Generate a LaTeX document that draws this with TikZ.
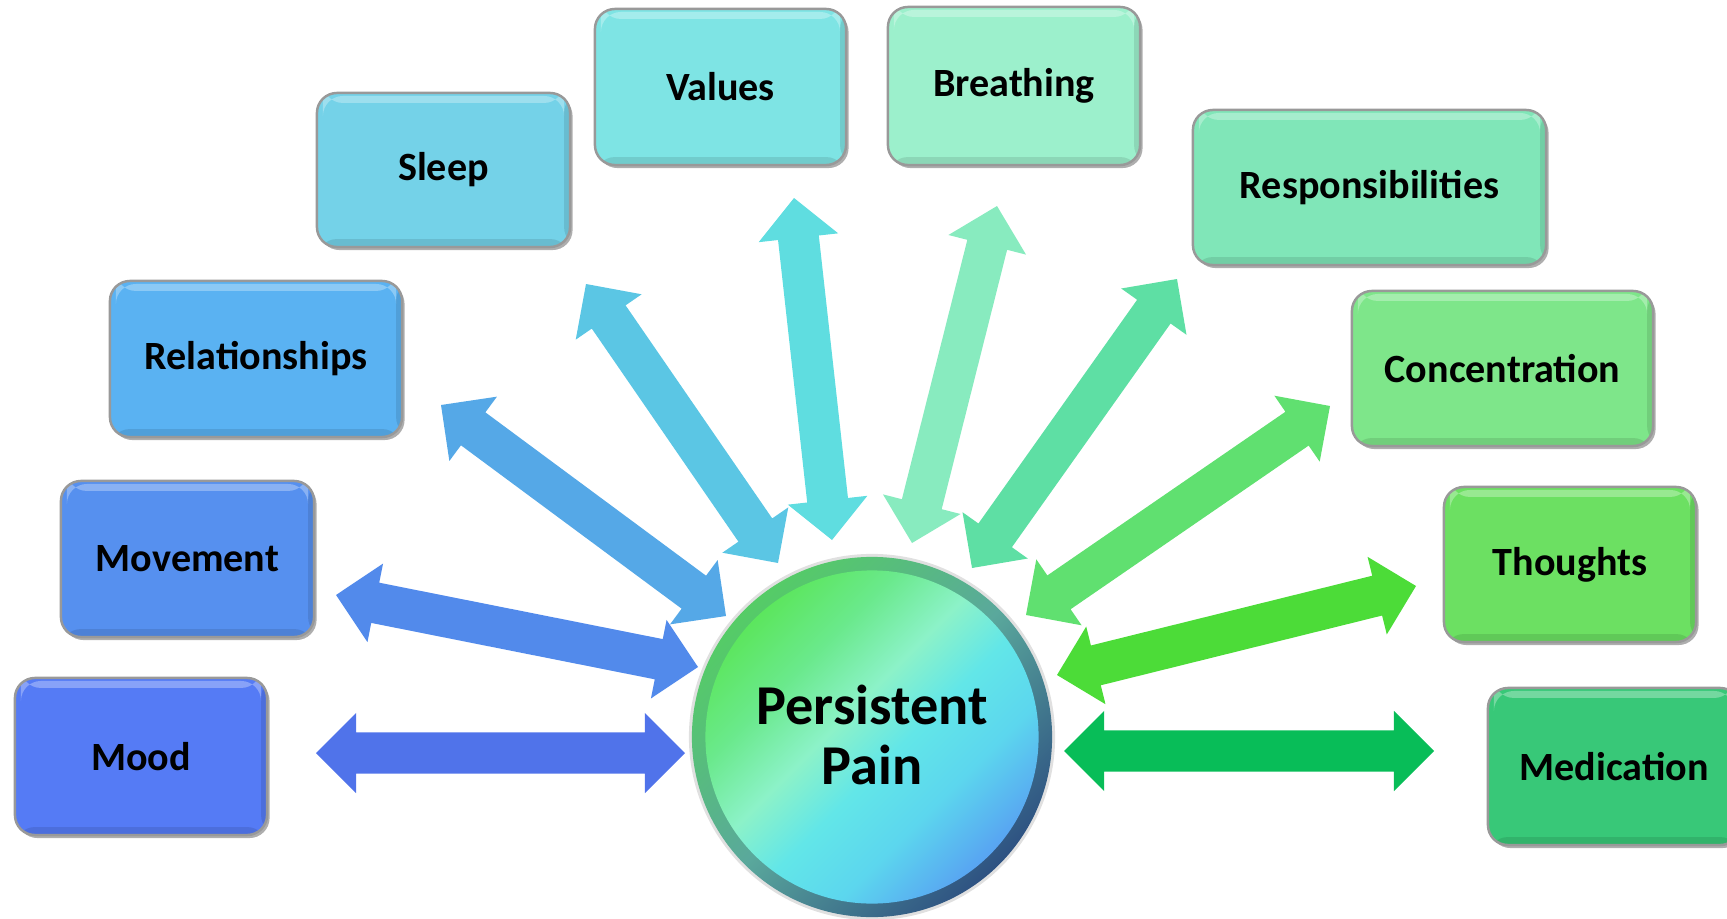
\documentclass[tikz,border=0pt]{standalone}
\usepackage{fontspec}
\setmainfont{Carlito}
\usetikzlibrary{calc,shadows}

% box colours
\definecolor{bmood}{HTML}{557BF5}
\definecolor{bmove}{HTML}{5690EF}
\definecolor{brel}{HTML}{5AB2F2}
\definecolor{bsleep}{HTML}{74D2E8}
\definecolor{bval}{HTML}{7EE4E4}
\definecolor{bbreath}{HTML}{9CF0CC}
\definecolor{bresp}{HTML}{80E6B8}
\definecolor{bconc}{HTML}{7EE68A}
\definecolor{bthou}{HTML}{6CE062}
\definecolor{bmed}{HTML}{38C878}
% arrow colours
\definecolor{amood}{HTML}{5073EA}
\definecolor{amove}{HTML}{528AEB}
\definecolor{arel}{HTML}{55A8E7}
\definecolor{asleep}{HTML}{5BC6E4}
\definecolor{aval}{HTML}{5FDDE0}
\definecolor{abreath}{HTML}{88EBBF}
\definecolor{aresp}{HTML}{5EDFA4}
\definecolor{aconc}{HTML}{60E070}
\definecolor{athou}{HTML}{4CDC38}
\definecolor{amed}{HTML}{08BD58}
% circle colours
\definecolor{pgreen}{HTML}{5CE65E}
\definecolor{pgreen2}{HTML}{6AE98C}
\definecolor{pmint}{HTML}{8CF2C8}
\definecolor{pcyan}{HTML}{62E6E8}
\definecolor{pcyan2}{HTML}{5CD6EE}
\definecolor{pblue}{HTML}{58A4F2}
\definecolor{rgreen}{HTML}{55CC66}
\definecolor{rteal}{HTML}{5AA89C}
\definecolor{rdark}{HTML}{2E5282}

\pgfdeclarehorizontalshading{painshade}{100bp}{color(0bp)=(pgreen); color(25bp)=(pgreen); color(35bp)=(pgreen2); color(45bp)=(pmint); color(54bp)=(pcyan); color(64bp)=(pcyan2); color(75bp)=(pblue); color(100bp)=(pblue)}
\pgfdeclarehorizontalshading{ringshade}{100bp}{color(0bp)=(rgreen); color(25bp)=(rgreen); color(50bp)=(rteal); color(75bp)=(rdark); color(100bp)=(rdark)}

\newcommand{\dbar}[3]{%
  \coordinate (hA) at ($(#1)!0.4cm!(#2)$);
  \coordinate (hB) at ($(#2)!0.4cm!(#1)$);
  \fill[#3] (#1) -- ($(hA)!0.4cm!90:(#2)$) -- ($(hA)!0.205cm!90:(#2)$)
    -- ($(hB)!0.205cm!-90:(#1)$) -- ($(hB)!0.4cm!-90:(#1)$) -- (#2)
    -- ($(hB)!0.4cm!90:(#1)$) -- ($(hB)!0.205cm!90:(#1)$)
    -- ($(hA)!0.205cm!-90:(#2)$) -- ($(hA)!0.4cm!-90:(#2)$) -- cycle;
}

\tikzset{
  box/.style={rounded corners=0.2cm, draw=black!40, line width=0.7pt,
    inner sep=0pt, align=center,
    font=\fontsize{11.4}{13}\selectfont\bfseries,
    drop shadow={shadow xshift=0.025cm, shadow yshift=-0.03cm, opacity=0.45, fill=black!70},
    path picture={
      \fill[white,opacity=0.30] ([xshift=0.06cm,yshift=-0.03cm]path picture bounding box.north west) rectangle ([xshift=-0.06cm,yshift=-0.10cm]path picture bounding box.north east);
      \fill[black,opacity=0.10] ([yshift=0.08cm]path picture bounding box.south west) rectangle (path picture bounding box.south east);
      \fill[black,opacity=0.10] ([xshift=-0.06cm]path picture bounding box.north east) rectangle (path picture bounding box.south east);
    }},
  pain/.style={align=center, font=\fontsize{16}{17.2}\selectfont\bfseries, inner sep=0pt}
}

\begin{document}
\begin{tikzpicture}[x=0.01cm, y=-0.01cm]
\useasboundingbox (0,0) rectangle (1727,918);

% arrow end points
\coordinate (mood-out) at (316,753);    \coordinate (mood-in) at (685,753);
\coordinate (move-out) at (336,595);    \coordinate (move-in) at (698,667);
\coordinate (rel-out) at (441,405);     \coordinate (rel-in) at (726,616);
\coordinate (sleep-out) at (586,284);   \coordinate (sleep-in) at (778,563);
\coordinate (val-out) at (794,198);     \coordinate (val-in) at (832,540);
\coordinate (breath-out) at (997,206);  \coordinate (breath-in) at (912,543);
\coordinate (resp-out) at (1177,279);   \coordinate (resp-in) at (972,568);
\coordinate (conc-out) at (1330,406);   \coordinate (conc-in) at (1026,615);
\coordinate (thou-out) at (1416,586);   \coordinate (thou-in) at (1057,675);
\coordinate (med-out) at (1434,751);    \coordinate (med-in) at (1064,751);

\dbar{mood-out}{mood-in}{amood}
\dbar{move-out}{move-in}{amove}
\dbar{rel-out}{rel-in}{arel}
\dbar{sleep-out}{sleep-in}{asleep}
\dbar{val-out}{val-in}{aval}
\dbar{breath-out}{breath-in}{abreath}
\dbar{resp-out}{resp-in}{aresp}
\dbar{conc-out}{conc-in}{aconc}
\dbar{thou-out}{thou-in}{athou}
\dbar{med-out}{med-in}{amed}

% central circle
\coordinate (pc) at (872,737);
\fill[black!12] (pc) circle (1.83cm);
\shade[shading=ringshade, shading angle=-45] (pc) circle (1.8cm);
\shade[shading=painshade, shading angle=-45] (pc) circle (1.665cm);
\node[pain] (pain) at ([yshift=0.02cm]pc) {Persistent\\Pain};

% boxes
\node[box, fill=bmood, minimum width=2.52cm, minimum height=1.57cm] (mood) at (141,756.5) {Mood};
\node[box, fill=bmove, minimum width=2.53cm, minimum height=1.56cm] (move) at (187.5,559) {Movement};
\node[box, fill=brel, minimum width=2.92cm, minimum height=1.56cm] (rel) at (256,359) {Relationships};
\node[box, fill=bsleep, minimum width=2.53cm, minimum height=1.54cm] (sleep) at (443.5,170) {Sleep};
\node[box, fill=bval, minimum width=2.51cm, minimum height=1.56cm] (val) at (720.5,87) {Values};
\node[box, fill=bbreath, minimum width=2.52cm, minimum height=1.58cm] (breath) at (1014,86) {Breathing};
\node[box, fill=bresp, minimum width=3.53cm, minimum height=1.55cm] (resp) at (1369.5,187.5) {Responsibilities};
\node[box, fill=bconc, minimum width=3.01cm, minimum height=1.55cm] (conc) at (1502.5,368.5) {Concentration};
\node[box, fill=bthou, minimum width=2.52cm, minimum height=1.55cm] (thou) at (1570,564.5) {Thoughts};
\node[box, fill=bmed, minimum width=2.52cm, minimum height=1.57cm] (med) at (1614,766.5) {Medication};
\end{tikzpicture}
\end{document}
